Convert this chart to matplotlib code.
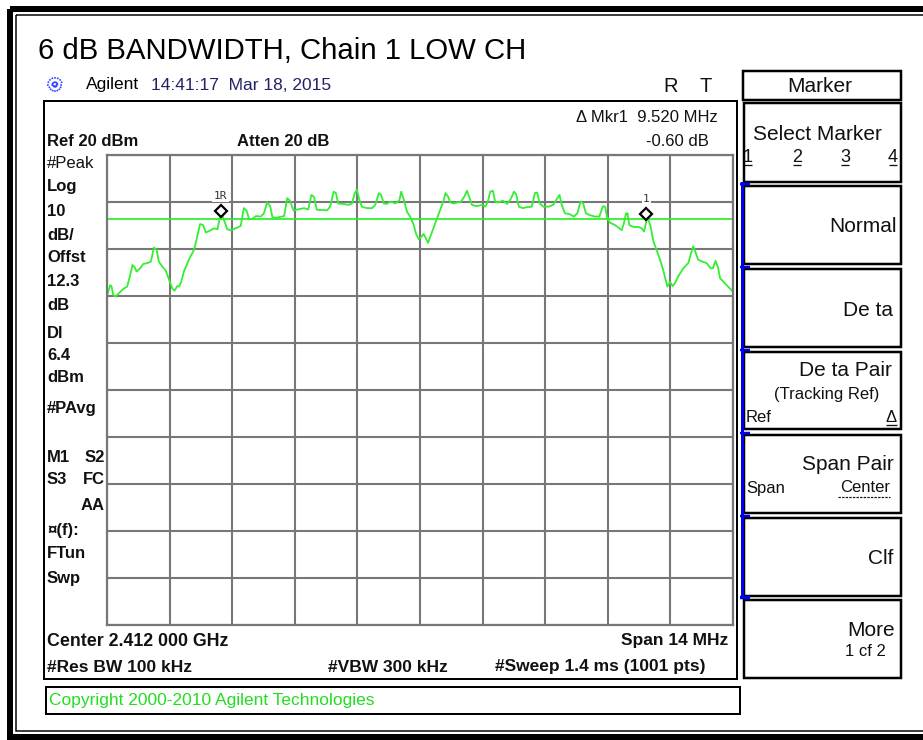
import matplotlib.pyplot as plt
import numpy as np
from matplotlib.patches import Rectangle
from matplotlib.transforms import offset_copy

plt.rcParams['font.family'] = ['Liberation Sans', 'DejaVu Sans']

# trace: frequency in MHz, level in dBm
freq_mhz = [
    2405.00, 2405.07, 2405.10, 2405.14, 2405.19, 2405.27, 2405.34, 2405.38, 2405.45, 2405.51,
    2405.57, 2405.62, 2405.66, 2405.74, 2405.81, 2405.90, 2405.98, 2406.05, 2406.11, 2406.16,
    2406.24, 2406.31, 2406.39, 2406.46, 2406.51, 2406.57, 2406.61, 2406.66, 2406.72, 2406.83,
    2406.95, 2407.01, 2407.08, 2407.15, 2407.21, 2407.30, 2407.39, 2407.47, 2407.53, 2407.58,
    2407.63, 2407.69, 2407.77, 2407.88, 2407.99, 2408.06, 2408.12, 2408.18, 2408.27, 2408.33,
    2408.44, 2408.51, 2408.58, 2408.65, 2408.70, 2408.81, 2408.96, 2409.03, 2409.09, 2409.17,
    2409.26, 2409.41, 2409.50, 2409.57, 2409.63, 2409.69,
    2409.73, 2409.85, 2409.92, 2409.99, 2410.07, 2410.12, 2410.17, 2410.26, 2410.41, 2410.48,
    2410.54, 2410.59, 2410.64, 2410.70, 2410.81, 2410.93, 2411.00, 2411.08, 2411.13, 2411.19,
    2411.26, 2411.34, 2411.45, 2411.54, 2411.58, 2411.64, 2411.71, 2411.78, 2411.86, 2411.91,
    2411.97, 2412.03, 2412.08, 2412.13, 2412.18, 2412.23, 2412.31, 2412.38, 2412.45, 2412.53,
    2412.57, 2412.63, 2412.68, 2412.75, 2412.83, 2412.92, 2413.00, 2413.05, 2413.10, 2413.16,
    2413.27, 2413.39, 2413.46, 2413.52, 2413.57, 2413.63, 2413.68, 2413.76, 2413.85, 2413.95,
    2414.04, 2414.10, 2414.15, 2414.21, 2414.30, 2414.39,
    2414.50, 2414.57, 2414.62, 2414.68, 2414.76, 2414.87, 2414.98, 2415.07, 2415.12, 2415.17,
    2415.24, 2415.35, 2415.44, 2415.52, 2415.59, 2415.65, 2415.71, 2415.80, 2415.91, 2416.01,
    2416.09, 2416.14, 2416.19, 2416.25, 2416.36, 2416.46, 2416.51, 2416.56, 2416.61, 2416.64,
    2416.68, 2416.77, 2416.88, 2416.96, 2417.01, 2417.07, 2417.10, 2417.16, 2417.22, 2417.29,
    2417.36, 2417.44, 2417.53, 2417.59, 2417.65, 2417.70, 2417.77, 2417.89, 2418.00, 2418.05,
    2418.11, 2418.17, 2418.22, 2418.32, 2418.41, 2418.50, 2418.55, 2418.61, 2418.67, 2418.71,
    2418.82, 2418.89, 2419.00,
]
level_dbm = [
    -10.0, -7.7, -7.9, -9.8, -10.1, -9.4, -8.7, -8.4, -8.0, -5.9,
    -3.4, -3.9, -4.8, -4.1, -3.2, -3.0, -2.7, 0.3, -0.2, -2.7,
    -3.8, -4.5, -6.6, -8.4, -8.9, -7.9, -8.0, -7.0, -4.8, -2.3,
    -0.1, 2.3, 5.3, 5.1, 3.5, 3.9, 4.4, 4.2, 7.0, 7.2,
    5.8, 4.2, 4.0, 4.4, 4.9, 8.7, 8.2, 6.3, 6.5, 7.0,
    6.9, 7.6, 9.9, 9.1, 6.7, 6.7, 7.0, 10.8, 10.3, 8.2,
    8.4, 8.7, 8.4, 11.5, 11.1, 8.4,
    8.3, 8.3, 8.2, 9.0, 12.2, 11.9, 9.7, 9.6, 9.4, 9.7,
    11.9, 12.6, 10.6, 9.0, 8.7, 8.7, 9.4, 11.9, 11.5, 9.7,
    9.6, 10.1, 9.7, 10.4, 12.2, 10.4, 7.9, 6.9, 5.1, 3.3,
    2.1, 2.6, 3.2, 2.3, 1.3, 2.6, 4.7, 6.5, 8.3, 10.3,
    11.9, 11.1, 9.9, 9.7, 9.9, 10.1, 11.3, 12.4, 11.1, 9.4,
    9.1, 9.4, 9.0, 10.1, 12.2, 12.4, 10.1, 9.9, 10.3, 9.6,
    10.8, 12.2, 11.7, 9.0, 8.7, 8.9,
    9.0, 11.9, 12.0, 9.7, 9.0, 9.0, 9.4, 10.8, 11.5, 9.4,
    7.6, 7.4, 6.9, 7.6, 10.1, 9.7, 7.6, 7.2, 6.9, 6.9,
    9.1, 9.0, 6.5, 5.6, 5.1, 4.4, 4.0, 5.5, 7.6, 7.6,
    5.1, 4.7, 4.7, 4.4, 3.7, 6.2, 6.5, 4.7, 1.6, -0.2,
    -2.0, -4.5, -8.0, -7.0, -7.9, -7.3, -5.9, -4.1, -3.0, -1.3,
    0.6, -0.9, -2.3, -2.7, -3.0, -4.1, -4.1, -2.5, -4.1, -6.2,
    -7.3, -8.0, -9.1,
]

center_mhz = 2412.0
span_mhz = 14.0
ref_level = 20.0
db_per_div = 10.0
display_line = 6.4

marker_names = ['1R', '1']
marker_freq = [2407.54, 2417.06]
marker_level = [7.0, 6.4]

left_labels = ['#Peak', 'Log', '10', 'dB/', 'Offst', '12.3', 'dB', 'Dl', '6.4', 'dBm', '#PAvg',
               'M1', 'S3', '\u00a4(f):', 'FTun', 'Swp']
left_right_labels = ['S2', 'FC', 'AA']

W, H = 923, 740
fig = plt.figure(figsize=(W / 100, H / 100), dpi=100)

# background axes in screen pixels (y down)
bg = fig.add_axes([0, 0, 1, 1])
bg.set_xlim(0, W)
bg.set_ylim(H, 0)
bg.axis('off')


def txt(x, y, s, size=12, weight='normal', color='#111111', ha='left', **kw):
    bg.text(x, y, s, fontsize=size, fontweight=weight, color=color, ha=ha, va='center', **kw)


def box(x, y, w, h, lw_px=2, color='black'):
    bg.add_patch(Rectangle((x, y), w, h, fill=False, edgecolor=color, lw=lw_px * 0.72))


def hline(x0, x1, y, lw_px=1, color='#111111', ls='-'):
    bg.plot([x0, x1], [y, y], color=color, lw=lw_px * 0.72, ls=ls, solid_capstyle='butt')


# outer frame
box(10, 9, 930, 728, lw_px=6)
box(16, 15, 920, 716, lw_px=1.5)

txt(38, 51, '6 dB BANDWIDTH, Chain 1 LOW CH', size=21.2, color='black')

# agilent spark
for a in np.linspace(0, np.pi, 8, endpoint=False):
    dx, dy = 8 * np.cos(a), 8 * np.sin(a)
    bg.plot([55 - dx, 55 + dx], [85 - dy, 85 + dy], color='#3344ff', lw=1.2, ls=':')
txt(86, 85, 'Agilent', size=12.5, color='black')
txt(151, 85, '14:41:17  Mar 18, 2015', size=12.5, color='#222266')
txt(663, 86, 'R', size=14.5)
txt(700, 86, 'T', size=14.5)

# display and copyright boxes
box(44, 101, 693, 578)
box(46, 687, 694, 27)
txt(49, 701, 'Copyright 2000-2010 Agilent Technologies', size=12.5, color='#22dd22')

txt(718, 117, '\u0394 Mkr1  9.520 MHz', size=12, ha='right')
txt(709, 142, '-0.60 dB', size=12, ha='right')
txt(47, 142, 'Ref 20 dBm', size=12, weight='bold')
txt(237, 142, 'Atten 20 dB', size=12, weight='bold')

left_y = [163, 187, 211, 235, 258, 282, 305, 333, 355, 377, 408, 457, 480, 530, 554, 578]
for s, y in zip(left_labels, left_y):
    txt(47, y, s, size=12, weight='normal' if s == '#Peak' else 'bold')
for s, y in zip(left_right_labels, [457, 480, 505]):
    txt(105, y, s, size=12, weight='bold', ha='right')

txt(47, 641, 'Center 2.412 000 GHz', size=12.8, weight='bold')
txt(728, 641, 'Span 14 MHz', size=12.5, weight='bold', ha='right')
txt(47, 667, '#Res BW 100 kHz', size=12.5, weight='bold')
txt(328, 667, '#VBW 300 kHz', size=12.5, weight='bold')
txt(495, 667, '#Sweep 1.4 ms (1001 pts)', size=12.5, weight='bold')

# softkey panel
box(743, 71, 158, 29, lw_px=2.5)
txt(820, 86, 'Marker', size=15, ha='center')
keys = [(103, 182), (186, 264), (269, 347), (352, 429), (435, 513), (518, 596), (600, 678)]
for top, bot in keys:
    box(744, top, 157, bot - top, lw_px=2.5)
bg.plot([741.5, 741.5], [183, 597], color='#0000ee', lw=3 * 0.72)
for top, bot in keys[1:]:
    hline(740, 750, top - 2, lw_px=2.5, color='#0000ee')
hline(740, 750, 184, lw_px=2.5, color='#0000ee')
hline(740, 750, 597, lw_px=2.5, color='#0000ee')

txt(817, 134, 'Select Marker', size=15, ha='center')
for s, x in zip(['1', '2', '3', '4'], [748, 797, 845, 893]):
    txt(x, 157, s, size=13, ha='center')
    hline(x - 4, x + 4, 165, lw_px=1.3)
txt(897, 227, 'Normal', size=15, ha='right')
txt(893, 310, 'De ta', size=15, ha='right')
txt(892, 370, 'De ta Pair', size=15, ha='right')
txt(827, 395, '(Tracking Ref)', size=12, ha='center')
txt(746, 417, 'Ref', size=12)
txt(897, 417, '\u0394', size=12, ha='right')
hline(886, 897, 425, lw_px=1.3)
txt(894, 465, 'Span Pair', size=15, ha='right')
txt(746, 488, 'Span', size=12)
txt(890, 488, 'Center', size=12, ha='right')
hline(838, 890, 497, lw_px=1.2, ls=(0, (2, 1)))
txt(893, 558, 'Clf', size=15, ha='right')
txt(895, 630, 'More', size=15, ha='right')
txt(886, 652, '1 cf 2', size=12, ha='right')

# trace area
ax = fig.add_axes([107 / W, 1 - 625 / H, 626 / W, 470 / H])
ax.set_zorder(2)
ax.set_facecolor('white')
ax.set_xlim(center_mhz - span_mhz / 2, center_mhz + span_mhz / 2)
ax.set_ylim(ref_level - 10 * db_per_div, ref_level)
ax.set_xticks(np.linspace(center_mhz - span_mhz / 2, center_mhz + span_mhz / 2, 11))
ax.set_yticks(np.linspace(ref_level - 10 * db_per_div, ref_level, 11))
ax.tick_params(length=0, labelbottom=False, labelleft=False)
ax.grid(True, color='#777777', lw=1.5)
for sp in ax.spines.values():
    sp.set_color('#777777')
    sp.set_linewidth(1.6)

ax.axhline(display_line, color='#22ee22', lw=1.2)
ax.plot(freq_mhz, level_dbm, color='#33ee33', lw=1.3)

mk_tr = offset_copy(ax.transData, fig=fig, x=0, y=5, units='dots')
for name, f, v in zip(marker_names, marker_freq, marker_level):
    ax.plot(f, v, marker='D', ms=6.5, mfc='white', mec='black', mew=1.6, transform=mk_tr,
            clip_on=False)
    ax.annotate(name, (f, v), xytext=(0, 20), textcoords='offset pixels', ha='center',
                va='center', fontsize=8, family='DejaVu Sans Mono', color='#333333',
                bbox=dict(fc='white', ec='none', pad=1))

fig.savefig('out.png', dpi=100)
